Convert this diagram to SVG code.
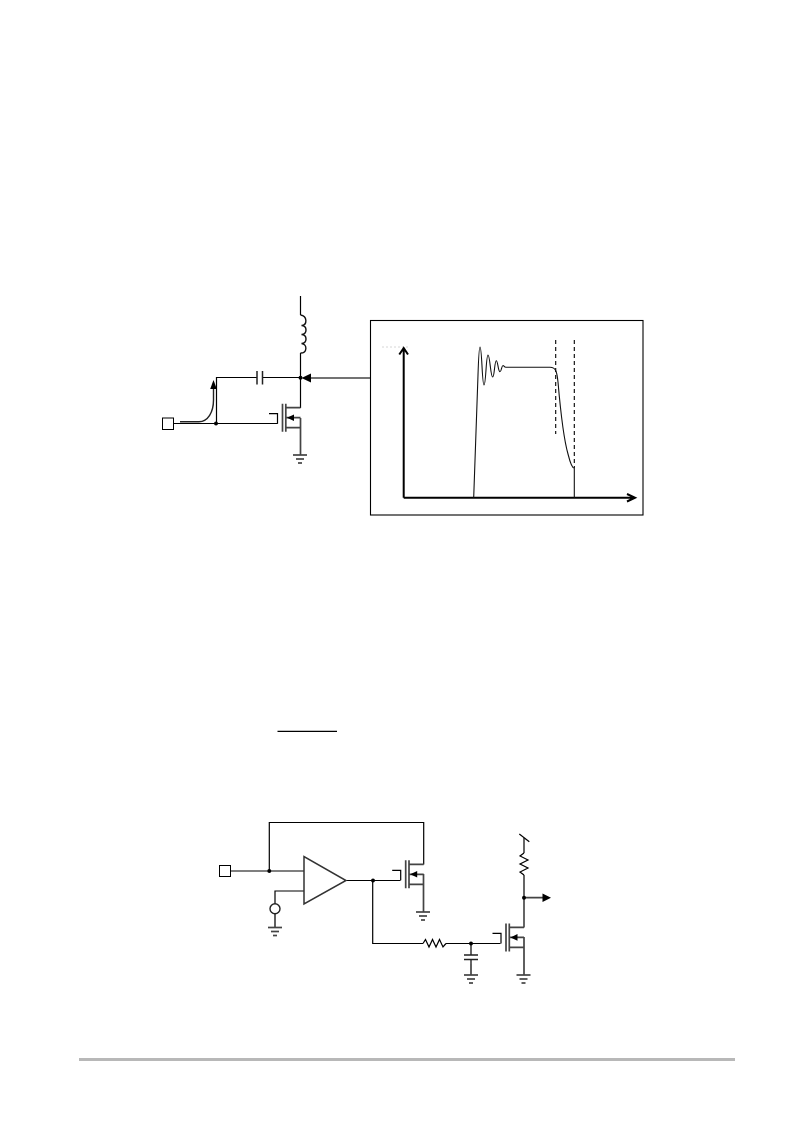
<svg xmlns="http://www.w3.org/2000/svg" width="793" height="1123" viewBox="0 0 793 1123">
<style>
.w{fill:none;stroke:#000;stroke-width:1.200;stroke-linejoin:miter}
.t{fill:none;stroke:#222;stroke-width:1.500}
.g{fill:none;stroke:#444;stroke-width:1.700}
.d{fill:#000;stroke:none}
.pin{fill:#fff;stroke:#000;stroke-width:1}
.dash{fill:none;stroke:#000;stroke-width:1.100;stroke-dasharray:4 3}
</style>
<defs>
<g id="gnd"><path class="g" d="M-7 0H7"/><path class="g" d="M-4 4H4"/><path class="g" d="M-2 8H2"/></g>
<g id="fet"><path class="g" d="M0 -14V14M3.300 -14V14"/><path class="w" d="M-5 6V-4H-13.500"/><path class="g" d="M3.300 -10H18M3.300 0H18M3.300 10H18"/><path class="d" d="M4.500 0L11.500 -3.300V3.300Z"/></g>
</defs>
<g id="connectors">
<path class="w" d="M300.500 296V315"/>
<path class="w" d="M300.500 353V408"/>
<path class="w" d="M216.500 423.500V377.500H257M262 377.500H300"/>
<path class="w" d="M174 423.500H277.500"/>
<path class="g" d="M370.500 378H308"/>
<path class="d" d="M301.500 378L311 373.500V382.500Z"/>
<path class="g" d="M300.500 418V455"/>
<path class="w" d="M269 871H304M231 871H269M269.300 871V822.500H423.700V864.500"/>
<path class="w" d="M304 891H275V904"/>
<path class="g" d="M275 914V927"/>
<path class="w" d="M346 880.500H400.500M372.700 880.500V943.500H423M446 943.500H500.500"/>
<path class="g" d="M423.500 874V912"/>
<path class="w" d="M524 838V853M524 875V927.500"/>
<path class="g" d="M524 937V975M524 897.700H544"/>
<path class="d" d="M551 897.700L542.500 893.500V902Z"/>
<path class="w" d="M471 943.500V955M471 959.500V964"/>
<path class="g" d="M471 964V975"/>
<path class="w" d="M519.300 834L529.300 841.700"/>
</g>
<g id="inductor"><path fill="none" stroke="#111" stroke-width="1.400" d="M300.500 315C307.500 316 307.500 325 301.500 325.500C307.500 326 307.500 334 301.500 334.500C307.500 335 307.500 343 301.500 343.500C307.500 344 307.500 353 300.500 353"/></g>
<g id="cap1"><path class="t" d="M257 371V384.500M262.500 371V384.500"/></g>
<g id="pin1"><rect class="pin" x="162.500" y="418" width="11" height="11.500"/></g>
<g id="current-arrow"><path fill="none" stroke="#222" stroke-width="1.400" d="M180 421.700H199C208 421.700 213.500 412 213.500 400V386"/><path class="d" d="M213.500 380L216.800 389H210.200Z"/></g>
<g id="q1"><use href="#fet" x="282.500" y="417.700"/></g>
<use id="gnd1" href="#gnd" x="300" y="455"/>
<g id="d1"><circle class="d" cx="216" cy="423.500" r="2"/><circle class="d" cx="300.500" cy="377.700" r="2"/></g>
<g id="plot">
<rect x="370.500" y="320.500" width="272.500" height="194.500" fill="none" stroke="#000" stroke-width="1.100"/>
<path fill="none" stroke="#ccc" stroke-width="0.800" stroke-dasharray="2 2" d="M382 347H408"/>
<path fill="none" stroke="#000" stroke-width="2" d="M403.700 497.700V349M399.300 354.500L403.700 348L408 354.500M403.700 497.700H634M627 494L635 497.700L627 501.500"/>
<path class="dash" d="M555.700 340V434M574.300 340V468"/>
<path fill="none" stroke="#111" stroke-width="1.100" d="M473.700 497.700L478 375C478.500 360 479 347 480 347C482 347 482 385 484 385C486 385 486 355 488 355C490 355 490.500 377 492.700 377C494.500 377 494.500 360.700 496.300 360.700C498 360.700 498 371.700 500 371.700C501.500 371.700 501.500 365.500 503 365.500C504 365.500 504 367.300 506 367.300H550C556 367.300 557 372 558 382C560 405 564 440 568 454C570 462 572 468.300 574.300 468.300V497.700"/>
</g>
<g id="overline"><path stroke="#000" stroke-width="1.300" d="M277.500 731.300H337"/></g>
<g id="pin2"><rect class="pin" x="219.500" y="865.500" width="11" height="11"/></g>
<g id="amp"><path fill="#fff" stroke="#333" stroke-width="1.500" d="M304 856.500V904L346 880.500Z"/></g>
<g id="vref"><circle cx="275" cy="908.700" r="5" fill="#fff" stroke="#222" stroke-width="1.400"/></g>
<use id="gnd2" href="#gnd" x="275" y="927.500"/>
<g id="q2"><use href="#fet" x="405.700" y="874.300"/></g>
<use id="gnd3" href="#gnd" x="423" y="912"/>
<g id="r1"><path class="w" d="M423 943.500L425.500 939.500L429 947L432.500 939.500L436 947L439.500 939.500L443 947L446 943.500"/></g>
<g id="c2"><path class="t" d="M464 955H478M464 959.500H478"/></g>
<use id="gnd4" href="#gnd" x="471" y="975"/>
<g id="q3"><use href="#fet" x="506" y="937.400"/></g>
<use id="gnd5" href="#gnd" x="523.500" y="975"/>
<g id="r2"><path class="w" d="M524 853L520 856L528 860L520 864L528 868L520 872L524 875"/></g>
<g id="d2"><circle class="d" cx="269.300" cy="871" r="2"/><circle class="d" cx="373" cy="880.500" r="2"/><circle class="d" cx="471" cy="943.500" r="2"/><circle class="d" cx="524" cy="897.700" r="2"/></g>
<g id="footer"><path stroke="#b8b8b8" stroke-width="3" d="M79 1059.500H735"/></g>
</svg>
